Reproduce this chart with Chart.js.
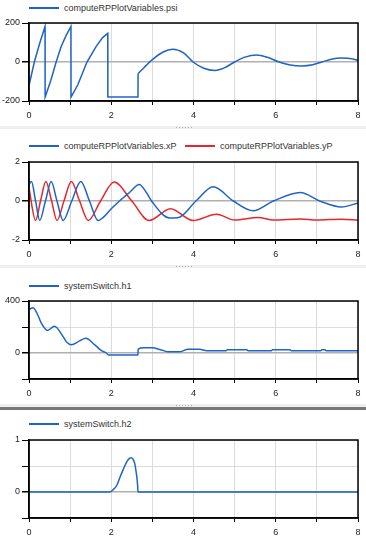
<!DOCTYPE html>
<html>
<head>
<meta charset="utf-8">
<script src="https://cdn.jsdelivr.net/npm/chart.js@4.4.1/dist/chart.umd.min.js"></script>
<style>
  body { margin: 0; width: 366px; height: 541px; background: #fff; position: relative; overflow: hidden;
         font-family: "Liberation Sans", Arial, sans-serif; }
  .panel { position: absolute; left: 0; }
  .leg { position: absolute; font-size: 9px; color: #333; white-space: nowrap; line-height: 10px; height: 10px; }
  .leg i { position: absolute; left: 0; top: 4px; width: 30px; height: 1.5px; }
  .leg span { position: absolute; left: 35px; top: 0; }
  .band { position: absolute; left: 0; width: 366px; height: 3px; background: #efefef; }
  .dark { background: #777; }
  .dots { position: absolute; left: 176px; width: 18px; height: 1px;
          background: repeating-linear-gradient(to right, #aaa 0 1px, transparent 1px 3px); }
</style>
</head>
<body>

<div class="leg" style="left:29px;top:3px"><i style="background:#1e64c8"></i><span>computeRPPlotVariables.psi</span></div>
<div class="panel" style="top:15px"><canvas id="g1" width="366" height="110"></canvas></div>
<div class="band" style="top:126px"></div><div class="dots" style="top:127px"></div>

<div class="leg" style="left:29px;top:141px"><i style="background:#1e64c8"></i><span>computeRPPlotVariables.xP</span></div>
<div class="leg" style="left:185px;top:141px"><i style="background:#e8242c"></i><span>computeRPPlotVariables.yP</span></div>
<div class="panel" style="top:154px"><canvas id="g2" width="366" height="110"></canvas></div>
<div class="band" style="top:265px"></div><div class="dots" style="top:266px"></div>

<div class="leg" style="left:29px;top:281px"><i style="background:#1e64c8"></i><span>systemSwitch.h1</span></div>
<div class="panel" style="top:293px"><canvas id="g3" width="366" height="110"></canvas></div>
<div class="band" style="top:404px"></div><div class="band dark" style="top:407px"></div><div class="dots" style="top:405px"></div>

<div class="leg" style="left:29px;top:419px"><i style="background:#1e64c8"></i><span>systemSwitch.h2</span></div>
<div class="panel" style="top:432px"><canvas id="g4" width="366" height="110"></canvas></div>

<script>
// eje de tiempo comun
const xEtiquetas = [0, 2, 4, 6, 8];

// psi: tramo de sierra (lineal) y tramo oscilante
const psiSierraT = [0, 0.13, 0.26, 0.39, 0.392, 0.53, 0.66, 0.78, 0.9, 1.02, 1.022, 1.185, 1.41, 1.63, 1.79, 1.915, 1.917, 2.65, 2.652];
const psiSierraV = [-121, 0, 96, 182, -180, -95, 0, 78, 135, 181, -180, -118, 0, 79, 125, 147, -180, -180, -60];
const psiOndaT = [2.652, 2.8, 3.0, 3.25, 3.5, 3.75, 3.99, 4.25, 4.52, 4.75, 5.0, 5.25, 5.53, 5.8, 6.08, 6.35, 6.63, 6.9, 7.12, 7.35, 7.6, 7.85, 8.0];
const psiOndaV = [-60, -28, 12, 50, 66, 48, 0, -32, -43, -30, 0, 25, 36, 24, 0, -15, -20, -14, 0, 14, 20, 17, 8];

// xP, yP
const xpT = [0, 0.06, 0.16, 0.26, 0.40, 0.54, 0.68, 0.83, 1.04, 1.26, 1.47, 1.68, 1.8, 2.0, 2.2, 2.45, 2.68, 2.85, 2.98, 3.42, 3.62, 4.06, 4.48, 4.97, 5.45, 5.94, 6.6, 7.07, 7.6, 8.0];
const xpV = [0.85, 1, 0, -1, 0, 1, 0, -1, 0, 1, 0, -1, -0.85, -0.4, 0, 0.45, 0.85, 0.45, 0, -0.87, -0.86, 0, 0.73, 0, -0.5, 0, 0.44, 0, -0.31, -0.1];
const ypT = [0, 0.16, 0.28, 0.41, 0.55, 0.68, 0.85, 1.03, 1.23, 1.44, 1.74, 2.07, 2.5, 2.92, 3.44, 3.99, 4.56, 5.0, 5.57, 5.95, 6.6, 7.0, 7.6, 8.0];
const ypV = [0.65, -1, 0, 1, 0, -1, 0, 1, 0, -1, 0, 0.97, 0, -1, -0.4, -1, -0.68, -0.98, -0.84, -0.98, -0.92, -0.98, -0.93, -0.98];

// h1
const h1T = [0, 0.1, 0.2, 0.3, 0.45, 0.62, 0.83, 0.92, 1.03, 1.23, 1.38, 1.6, 1.76, 1.88, 1.93, 2.65, 2.652, 2.8, 3.0, 3.2, 3.4, 3.65, 3.87, 4.15, 4.32, 4.8, 4.82, 5.3, 5.32, 5.9, 5.92, 6.35, 6.37, 7.1, 7.12, 7.2, 7.22, 8.0];
const h1V = [335, 348, 302, 230, 174, 206, 126, 83, 63, 93, 113, 63, 18, 0, -15, -15, 30, 40, 40, 25, 9, 9, 28, 28, 18, 18, 25, 25, 18, 18, 25, 25, 18, 18, 25, 25, 18, 18];

// h2
const h2T = [0, 1.96, 2.04, 2.13, 2.21, 2.29, 2.37, 2.45, 2.49, 2.53, 2.57, 2.61, 2.64, 2.65, 8];
const h2V = [0, 0, 0.04, 0.12, 0.28, 0.43, 0.57, 0.65, 0.66, 0.63, 0.55, 0.36, 0.14, 0, 0];

const azul = '#1e64c8';
const rojo = '#e8242c';
const fuente = { family: '"Liberation Sans", Arial, sans-serif', size: 9 };

let puntos = (t, v) => t.map((x, i) => ({ x: x, y: v[i] }));

// marco negro alrededor del area de trazado
const marco = {
  id: 'marco',
  afterDatasetsDraw(chart) {
    const { ctx, chartArea: a } = chart;
    ctx.save();
    ctx.strokeStyle = '#000';
    ctx.lineWidth = 1.5;
    ctx.strokeRect(a.left, a.top, a.right - a.left, a.bottom - a.top);
    ctx.restore();
  }
};

let serie = (t, v, color, suave) => ({
  data: puntos(t, v),
  borderColor: color,
  borderWidth: 1.5,
  pointRadius: 0,
  fill: false,
  cubicInterpolationMode: suave ? 'monotone' : 'default',
  tension: 0
});

let grafico = (id, datasets, yMin, yMax, yPaso, yEtiquetas) => {
  new Chart(document.getElementById(id), {
    type: 'line',
    data: { datasets: datasets },
    options: {
      responsive: false,
      animation: false,
      devicePixelRatio: 1,
      layout: { padding: { top: 8, right: 8, left: 0, bottom: 0 } },
      plugins: { legend: { display: false }, tooltip: { enabled: false } },
      scales: {
        x: {
          type: 'linear', min: 0, max: 8,
          afterFit: (s) => { s.height = 24; },
          ticks: {
            stepSize: 1, autoSkip: false, maxRotation: 0, padding: 5, color: '#222', font: fuente,
            callback: (v) => xEtiquetas.includes(v) ? String(v) : ''
          },
          grid: { color: '#dcdcdc', lineWidth: 1, tickColor: '#000', tickLength: 4 },
          border: { color: '#000', width: 1.5 }
        },
        y: {
          min: yMin, max: yMax,
          afterFit: (s) => { s.width = 29; },
          ticks: {
            stepSize: yPaso, padding: 2, color: '#222', font: fuente,
            callback: (v) => yEtiquetas.includes(v) ? String(v) : ''
          },
          grid: {
            color: (c) => (c.tick && c.tick.value === 0) ? '#b0b0b0' : '#dcdcdc',
            lineWidth: (c) => (c.tick && c.tick.value === 0) ? 1.5 : 1,
            tickColor: '#000', tickLength: 7
          },
          border: { color: '#000', width: 1.5 }
        }
      }
    },
    plugins: [marco]
  });
}

grafico('g1', [serie(psiSierraT, psiSierraV, azul, false), serie(psiOndaT, psiOndaV, azul, true)], -200, 200, 200, [-200, 0, 200]);
grafico('g2', [serie(xpT, xpV, azul, true), serie(ypT, ypV, rojo, true)], -2, 2, 2, [-2, 0, 2]);
grafico('g3', [serie(h1T, h1V, azul, true)], -200, 400, 200, [0, 400]);
grafico('g4', [serie(h2T, h2V, azul, true)], -0.5, 1, 0.5, [0, 1]);
</script>
</body>
</html>
